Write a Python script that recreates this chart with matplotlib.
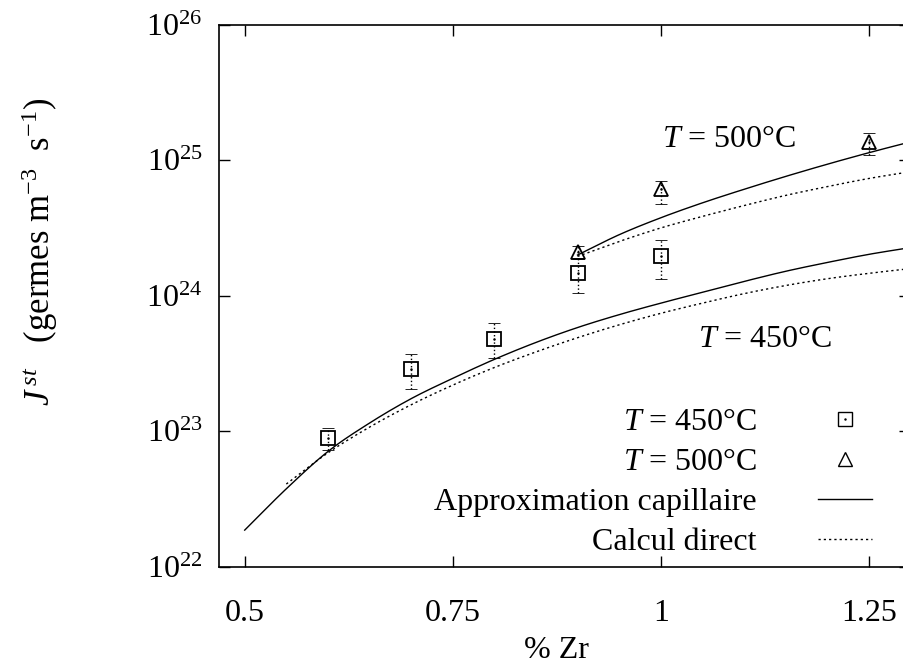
import numpy as np
import matplotlib
matplotlib.use("Agg")
import matplotlib.pyplot as plt
from matplotlib.lines import Line2D

plt.rcParams['font.family'] = ['Liberation Serif', 'DejaVu Serif']
plt.rcParams['mathtext.fontset'] = 'custom'
plt.rcParams['mathtext.rm'] = 'Liberation Serif'
plt.rcParams['mathtext.it'] = 'Liberation Serif:italic'
plt.rcParams['mathtext.bf'] = 'Liberation Serif:bold'

# ---- data (log10 of J^st) ----
x_450_pts = [0.6, 0.7, 0.8, 0.9, 1.0]
y_450_pts = [22.95, 23.46, 23.68, 24.17, 24.29]
y_450_lo = [22.86, 23.31, 23.54, 24.02, 24.12]
y_450_hi = [23.02, 23.57, 23.80, 24.28, 24.41]

x_500_pts = [0.9, 1.0, 1.25]
y_500_pts = [24.325, 24.785, 25.137]
y_500_lo = [24.27, 24.68, 25.04]
y_500_hi = [24.37, 24.85, 25.20]

x_cap_450 = [0.50, 0.55, 0.60, 0.65, 0.70, 0.75, 0.80, 0.85, 0.90, 0.95, 1.00, 1.05, 1.10, 1.15, 1.20, 1.25, 1.30]
y_cap_450 = [22.27, 22.575, 22.85, 23.06, 23.24, 23.39, 23.53, 23.655, 23.765, 23.86, 23.945, 24.025, 24.105, 24.18, 24.245, 24.305, 24.355]

x_dir_450 = [0.55, 0.60, 0.65, 0.70, 0.75, 0.80, 0.85, 0.90, 0.95, 1.00, 1.05, 1.10, 1.15, 1.20, 1.25, 1.30]
y_dir_450 = [22.61, 22.84, 23.03, 23.195, 23.34, 23.47, 23.585, 23.69, 23.785, 23.87, 23.945, 24.015, 24.075, 24.125, 24.165, 24.20]

x_cap_500 = [0.90, 0.95, 1.00, 1.05, 1.10, 1.15, 1.20, 1.25, 1.30]
y_cap_500 = [24.30, 24.45, 24.575, 24.685, 24.785, 24.88, 24.97, 25.055, 25.135]

x_dir_500 = [0.90, 0.95, 1.00, 1.05, 1.10, 1.15, 1.20, 1.25, 1.30]
y_dir_500 = [24.29, 24.40, 24.50, 24.585, 24.665, 24.74, 24.805, 24.865, 24.915]

x_ticks = [0.5, 0.75, 1.0, 1.25]
x_tick_labels = ['0.5', '0.75', '1', '1.25']
y_tick_exps = [22, 23, 24, 25, 26]

labels = [r'$T$ = 450°C', r'$T$ = 500°C', 'Approximation capillaire', 'Calcul direct']

FS = 23

def smooth(xs, ys, n=300):
    xs = np.asarray(xs, float); ys = np.asarray(ys, float)
    ye = np.concatenate([[2 * ys[0] - ys[1]], ys, [2 * ys[-1] - ys[-2]]])
    xx = np.linspace(xs[0], xs[-1], n)
    out = []
    for xv in xx:
        i = int(np.clip(np.searchsorted(xs, xv, side='right') - 1, 0, len(xs) - 2))
        p0, p1, p2, p3 = ye[i], ye[i + 1], ye[i + 2], ye[i + 3]
        t = (xv - xs[i]) / (xs[i + 1] - xs[i])
        v = 0.5 * ((2 * p1) + (-p0 + p2) * t + (2 * p0 - 5 * p1 + 4 * p2 - p3) * t ** 2
                   + (-p0 + 3 * p1 - 3 * p2 + p3) * t ** 3)
        out.append(v)
    return xx, 10 ** np.array(out)

fig = plt.figure(figsize=(9.04, 6.66), dpi=100)
ax = fig.add_axes([219 / 904, 1 - 566.7 / 666, (910 - 219) / 904, (566.7 - 24.7) / 666])
ax.set_yscale('log')
ax.set_xlim(0.4691, 1.2996)
ax.set_ylim(1e22, 1e26)

dot_style = (0, (1.6, 2.2))
lw = 1.0

for xs, ys, st in [(x_cap_450, y_cap_450, '-'), (x_cap_500, y_cap_500, '-'),
                   (x_dir_450, y_dir_450, dot_style), (x_dir_500, y_dir_500, dot_style)]:
    xx, yy = smooth(xs, ys)
    ax.plot(xx, yy, color='black', lw=lw, linestyle=st, clip_on=False)

def errs(c, lo, hi):
    c = 10 ** np.array(c); lo = 10 ** np.array(lo); hi = 10 ** np.array(hi)
    return c, np.vstack([c - lo, hi - c])

c450, e450 = errs(y_450_pts, y_450_lo, y_450_hi)
c500, e500 = errs(y_500_pts, y_500_lo, y_500_hi)

for xs, c, e, m, ms in [(x_450_pts, c450, e450, 's', 9.5), (x_500_pts, c500, e500, '^', 10)]:
    eb = ax.errorbar(xs, c, yerr=e, fmt='none', ecolor='black', elinewidth=1.0, capsize=4, capthick=0.6)
    eb[2][0].set_linestyle(':')
    ax.plot(xs, c, linestyle='none', marker=m, ms=ms, mfc='none', mec='black', mew=1.3)
    ax.plot(xs, c, linestyle='none', marker='.', ms=1.5, color='black')

ax.set_xticks(x_ticks)
ax.set_xticklabels(x_tick_labels)
ax.set_yticks([10.0 ** e for e in y_tick_exps])
ax.set_yticklabels([r'$10^{%d}$' % e for e in y_tick_exps])
ax.yaxis.set_minor_locator(matplotlib.ticker.NullLocator())
ax.tick_params(direction='in', length=8, width=1.0, top=True, right=True, labelsize=FS)
ax.tick_params(axis='x', pad=23)
ax.tick_params(axis='y', pad=12)
for s in ax.spines.values():
    s.set_linewidth(1.2)

ax.text(1.002, 10 ** 25.15, r'$T$ = 500°C', fontsize=FS, va='center', ha='left')
ax.text(1.045, 10 ** 23.68, r'$T$ = 450°C', fontsize=FS, va='center', ha='left')

fig.text(40 / 904, 1 - 252 / 666, r'$J^{\,st}$   (germes m$^{-3}$  s$^{-1}$)', rotation=90,
         fontsize=25, ha='center', va='center')
fig.text(556 / 904, 1 - 650 / 666, '% Zr', fontsize=FS, ha='center', va='center')

sq = Line2D([], [], linestyle='none', marker='s', ms=9.5, mfc='none', mec='black', mew=1.0)
dot = Line2D([], [], linestyle='none', marker='.', ms=1.5, color='black')
handles = [
    (sq, dot),
    Line2D([], [], linestyle='none', marker='^', ms=10, mfc='none', mec='black', mew=1.0),
    Line2D([], [], color='black', lw=lw),
    Line2D([], [], color='black', lw=lw, linestyle=dot_style),
]
leg = ax.legend(handles, labels, loc='lower right', frameon=False, markerfirst=False,
                fontsize=FS, handlelength=1.7, handletextpad=1.9, labelspacing=0.33,
                borderpad=0, borderaxespad=0,
                bbox_to_anchor=(872 / 904, 1 - 557 / 666), bbox_transform=fig.transFigure)

fig.savefig('out.png', dpi=100)
